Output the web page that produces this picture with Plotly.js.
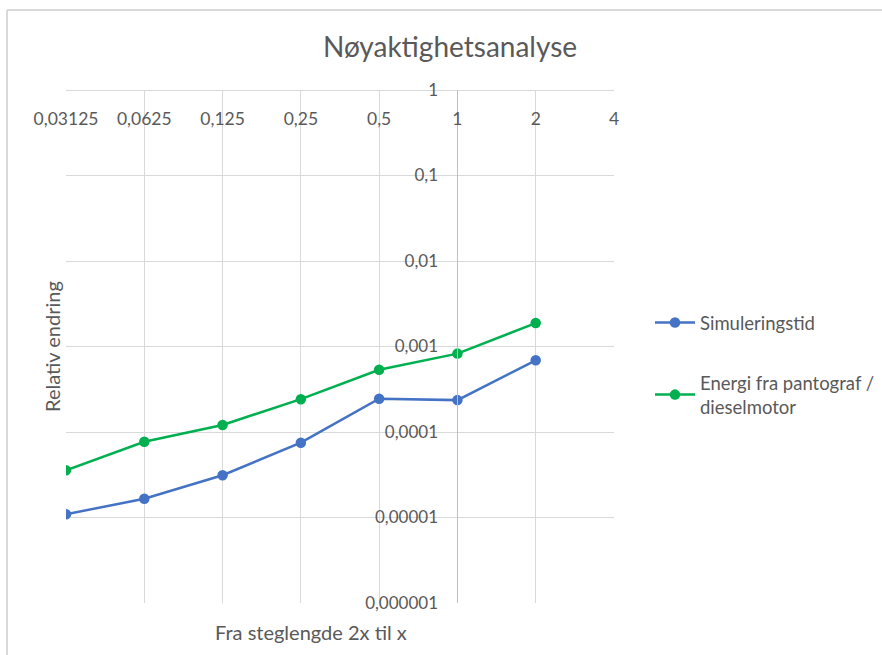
<!DOCTYPE html>
<html>
<head>
<meta charset="utf-8">
<script src="https://cdn.plot.ly/plotly-3.0.1.min.js"></script>
<style>
html,body{margin:0;padding:0;background:#fff;}
#chart{width:882px;height:655px;}
</style>
</head>
<body>
<div id="chart"></div>
<script>
const steps = [0.03125, 0.0625, 0.125, 0.25, 0.5, 1, 2];
const simuleringstid = [1.09e-5, 1.66e-5, 3.12e-5, 7.5e-5, 2.45e-4, 2.36e-4, 6.9e-4];
const energi = [3.56e-5, 7.7e-5, 1.21e-4, 2.42e-4, 5.34e-4, 8.26e-4, 1.88e-3];
const xTickVals = [0.03125, 0.0625, 0.125, 0.25, 0.5, 1, 2, 4];
const xTickText = ['0,03125', '0,0625', '0,125', '0,25', '0,5', '1', '2', '4'];
const yTickVals = [1e-6, 1e-5, 1e-4, 1e-3, 1e-2, 1e-1, 1];
const yTickText = ['0,000001', '0,00001', '0,0001', '0,001', '0,01', '0,1', '1'];
const seriesNames = ['Simuleringstid', 'Energi fra pantograf /<br>dieselmotor'];

const FONT = 'Lato, "Open Sans", sans-serif';
const TXT = '#595959';
const GRID = '#d9d9d9';

const traces = [
  {x: steps, y: simuleringstid, name: seriesNames[0], legendgroup: 'a', type: 'scatter', mode: 'lines+markers',
   line: {color: '#4472C4', width: 2.5}, marker: {color: '#4472C4', size: 10.5}},
  {x: steps, y: energi, name: seriesNames[1], legendgroup: 'b', type: 'scatter', mode: 'lines+markers',
   line: {color: '#00B050', width: 2.5}, marker: {color: '#00B050', size: 10.5}}
];

const L = 66, R = 268, T = 90, B = 52, W = 882, H = 655;
const pw = W - L - R, ph = H - T - B;
const px = v => (v - L) / pw;
const py = v => (H - B - v) / ph;

const layout = {
  width: W, height: H,
  margin: {l: L, r: R, t: T, b: B},
  paper_bgcolor: '#fff', plot_bgcolor: '#fff',
  font: {family: FONT, color: TXT, size: 17},
  title: {text: 'Nøyaktighetsanalyse', font: {family: FONT, size: 28, color: TXT},
          xref: 'container', x: 450 / W, xanchor: 'center', yref: 'container', y: 1 - 47 / H, yanchor: 'middle'},
  xaxis: {type: 'log', range: [Math.log10(0.03125), Math.log10(4)], tickvals: xTickVals, ticktext: xTickText,
          anchor: 'free', position: 1, side: 'bottom', showline: true, linecolor: GRID, linewidth: 1,
          showgrid: true, gridcolor: GRID, gridwidth: 1, zeroline: false, ticks: '', ticklabelstandoff: 13,
          tickfont: {family: FONT, size: 17.5, color: TXT}, automargin: false},
  yaxis: {type: 'log', range: [-6, 0], tickvals: yTickVals, ticktext: yTickText,
          anchor: 'free', position: 5 / 7, side: 'left', showline: true, linecolor: '#bfbfbf', linewidth: 1,
          showgrid: true, gridcolor: GRID, gridwidth: 1, zeroline: false,
          ticks: 'outside', ticklen: 16, tickcolor: 'rgba(0,0,0,0)',
          tickfont: {family: FONT, size: 17, color: TXT}, automargin: false},
  showlegend: true,
  legend: {xref: 'container', yref: 'container', x: 650 / W, xanchor: 'left', y: 1 - 304 / H, yanchor: 'top',
           tracegroupgap: 33, itemwidth: 40,
           font: {family: FONT, size: 18.5, color: TXT}, bgcolor: 'rgba(0,0,0,0)'},
  annotations: [
    {text: 'Fra steglengde 2x til x', xref: 'paper', yref: 'paper', x: px(311), y: py(632),
     xanchor: 'center', yanchor: 'middle', showarrow: false, font: {family: FONT, size: 20, color: TXT}},
    {text: 'Relativ endring', xref: 'paper', yref: 'paper', x: px(52), y: py(347), textangle: -90,
     xanchor: 'center', yanchor: 'middle', showarrow: false, font: {family: FONT, size: 20, color: TXT}}
  ],
  shapes: [
    {type: 'line', xref: 'paper', yref: 'paper', x0: px(7), x1: px(890), y0: py(10), y1: py(10), line: {color: GRID, width: 2}},
    {type: 'line', xref: 'paper', yref: 'paper', x0: px(7), x1: px(7), y0: py(10), y1: py(660), line: {color: GRID, width: 2}}
  ]
};

Plotly.newPlot('chart', traces, layout, {displayModeBar: false, staticPlot: true});
</script>
</body>
</html>
